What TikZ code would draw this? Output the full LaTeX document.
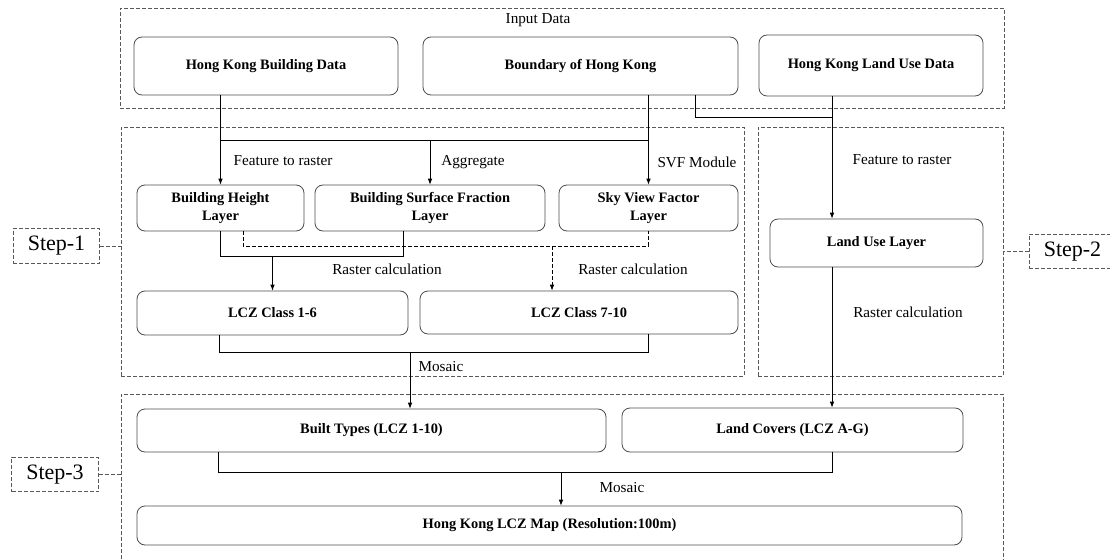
\documentclass[tikz,border=0pt]{standalone}
\usepackage{fontspec}
\setmainfont{Liberation Serif}
\usetikzlibrary{positioning,arrows.meta,calc}

\begin{document}
\begin{tikzpicture}[
    x=0.75pt, y=-0.75pt, line width=0.6pt,
    box/.style={draw=black!70, rounded corners=6pt, align=center, font=\bfseries\fontsize{10.8}{14}\selectfont, inner sep=0pt},
    grpline/.style={draw=black!65, dash pattern=on 3pt off 1.5pt},
    group/.style={grpline, inner sep=0pt},
    stepbox/.style={group, font=\fontsize{16.5}{18}\selectfont, minimum width=65pt, minimum height=26pt},
    lbl/.style={font=\fontsize{11.4}{13}\selectfont, inner sep=0pt},
    arr/.style={-{Latex[length=4.5pt,width=3.5pt]}}]
  \useasboundingbox (0,0) rectangle (1110,560);
  \clip (0,0) rectangle (1110,560);

  \node[group, minimum width=663pt, minimum height=75pt] (gin) at (562,58) {};
  \node[group, minimum width=467.25pt, minimum height=186.75pt] (g1) at (432.5,251.5) {};
  \node[group, minimum width=183.75pt, minimum height=186.75pt] (g2) at (880.5,251.5) {};
  \node[group, minimum width=661.5pt, minimum height=135.75pt] (g3) at (562,484.5) {};

  \node[stepbox] (s1) at (56.5,246) {Step-1};
  \node[stepbox] (s2) at (1072.5,251.5) {Step-2};
  \node[stepbox] (s3) at (55,474.5) {Step-3};
  \draw[grpline] (s1.east) -- (s1.east -| g1.west);
  \draw[grpline] (s2.west) -- (s2.west -| g2.east);
  \draw[grpline] (s3.east) -- (s3.east -| g3.west);

  \node[box, minimum width=198pt, minimum height=43.5pt] (bdata) at (266,66) {Hong Kong Building Data};
  \node[box, minimum width=236.25pt, minimum height=43.5pt] (bound) at (580.5,66) {Boundary of Hong Kong};
  \node[box, minimum width=168pt, minimum height=45.75pt] (ludata) at (871,65.5) {Hong Kong Land Use Data};
  \node[box, minimum width=125.25pt, minimum height=34.5pt] (bh) at (220.5,208) {Building Height\\Layer};
  \node[box, minimum width=172.5pt, minimum height=34.5pt] (bsf) at (430,208) {Building Surface Fraction\\Layer};
  \node[box, minimum width=134.25pt, minimum height=34.5pt] (svf) at (648.5,208) {Sky View Factor\\Layer};
  \node[box, minimum width=203.25pt, minimum height=33pt] (lcz16) at (272.5,313) {LCZ Class 1-6};
  \node[box, minimum width=238.5pt, minimum height=32.25pt] (lcz710) at (579,312.5) {LCZ Class 7-10};
  \node[box, minimum width=159.75pt, minimum height=36pt] (luse) at (876.5,243) {Land Use Layer};
  \node[box, minimum width=351.75pt, minimum height=32.25pt] (built) at (371.5,430.5) {Built Types (LCZ 1-10)};
  \node[box, minimum width=255.75pt, minimum height=33pt] (cover) at (792.5,430) {Land Covers (LCZ A-G)};
  \node[box, minimum width=618.75pt, minimum height=29.25pt] (map) at (549.5,525.5) {Hong Kong LCZ Map (Resolution:100m)};

  \node[lbl] (tin) at (538,20) {Input Data};
  \node[lbl] (tf1) at (283,161) {Feature to raster};
  \node[lbl] (tag) at (473,162) {Aggregate};
  \node[lbl] (tsvf) at (697,162) {SVF Module};
  \node[lbl] (tr1) at (387,269) {Raster calculation};
  \node[lbl] (tr2) at (633,269) {Raster calculation};
  \node[lbl] (tmo1) at (441,367) {Mosaic};
  \node[lbl] (tf2) at (902,160) {Feature to raster};
  \node[lbl] (tr3) at (908,312) {Raster calculation};
  \node[lbl] (tmo2) at (622,488) {Mosaic};

  \coordinate (bcol) at (695,117);
  \coordinate (lucol) at (832,117);
  \coordinate (top1) at (221,140);
  \coordinate (dl) at (243,246);
  \coordinate (dm) at (552,246);
  \coordinate (j1) at (403,256);
  \coordinate (m1) at (219,352);
  \coordinate (m1c) at (410,352);
  \coordinate (m2) at (218,472);
  \coordinate (m2c) at (561,472);

  \draw[arr] (bdata.south -| bh.north) -- (bh.north);
  \draw (top1) -- (top1 -| svf.north);
  \draw[arr] (bsf.north |- top1) -- (bsf.north);
  \draw[arr] (bound.south -| svf.north) -- (svf.north);
  \draw (bound.south -| bcol) -- (bcol) -- (lucol);
  \draw[arr] (ludata.south -| lucol) -- (luse.north -| lucol);
  \draw (bh.south) |- (j1) -- (j1 |- bsf.south);
  \draw[arr] (lcz16.north |- j1) -- (lcz16.north);
  \draw[dash pattern=on 3pt off 1.5pt] (dl |- bh.south) -- (dl) -- (dl -| svf.south) -- (svf.south);
  \draw[arr, dash pattern=on 3pt off 1.5pt] (dm) -- (dm |- lcz710.north);
  \draw (m1 |- lcz16.south) -- (m1) -- (m1 -| svf.south) -- (svf.south |- lcz710.south);
  \draw[arr] (m1c) -- (m1c |- built.north);
  \draw[arr] (luse.south -| lucol) -- (cover.north -| lucol);
  \draw (m2 |- built.south) -- (m2) -- (m2 -| lucol) -- (cover.south -| lucol);
  \draw[arr] (m2c) -- (m2c |- map.north);
\end{tikzpicture}
\end{document}
